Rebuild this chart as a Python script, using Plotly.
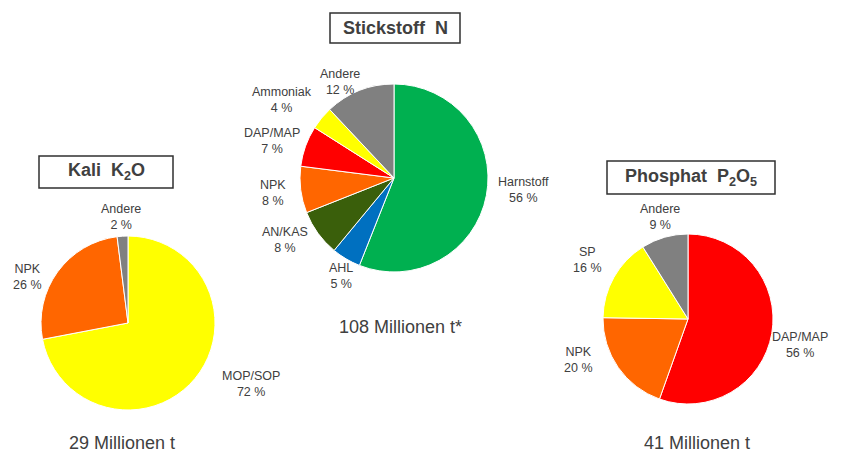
import plotly.graph_objects as go

# The page has an 8px body margin, so the figure is drawn 8px in from the window edge.
OFF = 8
WIN_W, WIN_H = 844, 457
W, H = WIN_W - OFF, WIN_H - OFF

# ---- data ----
n_labels = ["Harnstoff", "AHL", "AN/KAS", "NPK", "DAP/MAP", "Ammoniak", "Andere"]
n_values = [56, 5, 8, 8, 7, 4, 12]
k_labels = ["MOP/SOP", "NPK", "Andere"]
k_values = [72, 26, 2]
p_labels = ["DAP/MAP", "NPK", "SP", "Andere"]
p_values = [56, 20, 16, 9]
totals = ["108 Millionen t*", "29 Millionen t", "41 Millionen t"]
titles = ["<b>Stickstoff  N</b>", "<b>Kali  K<sub>2</sub>O</b>", "<b>Phosphat  P<sub>2</sub>O<sub>5</sub></b>"]

# ---- style ----
colors = {
    "Harnstoff": "#00b050", "AHL": "#0070c0", "AN/KAS": "#3a5f0b", "NPK": "#ff6600",
    "DAP/MAP": "#ff0000", "Ammoniak": "#ffff00", "Andere": "#808080",
    "MOP/SOP": "#ffff00", "SP": "#ffff00",
}
TXT = "#404040"
FONT = "Liberation Sans, Arial, sans-serif"

# pie geometry in window pixels: center x, center y, radius
geo = {"N": (394, 178, 94), "K": (128, 323, 87), "P": (688, 319, 85)}

# label positions (window pixels)
label_pos = {
    "N": {"Harnstoff": (523, 190), "AHL": (341, 276), "AN/KAS": (285, 240), "NPK": (273, 193),
          "DAP/MAP": (272, 141), "Ammoniak": (282, 100), "Andere": (340, 82)},
    "K": {"MOP/SOP": (251, 384), "NPK": (27, 277), "Andere": (121, 217)},
    "P": {"DAP/MAP": (800, 345), "NPK": (578, 360), "SP": (587, 260), "Andere": (660, 217)},
}
total_pos = {"N": (400, 327), "K": (122, 443), "P": (697, 443)}
title_box = {"N": (330, 13, 460, 43), "K": (39, 156, 173, 188), "P": (607, 161, 775, 194)}


def px(x):
    return (x - OFF) / W


def py(y):
    return 1 - (y - OFF) / H


fig = go.Figure()
annotations = []
shapes = []
series = [("N", n_labels, n_values, totals[0], titles[0]),
          ("K", k_labels, k_values, totals[1], titles[1]),
          ("P", p_labels, p_values, totals[2], titles[2])]

for key, labels, values, total, title in series:
    cx, cy, r = geo[key]
    fig.add_trace(go.Pie(
        labels=labels, values=values, sort=False, direction="clockwise", rotation=0,
        marker=dict(colors=[colors[l] for l in labels], line=dict(color="#ffffff", width=1)),
        textinfo="none", hoverinfo="label+value",
        domain=dict(x=[px(cx - r), px(cx + r)], y=[py(cy + r), py(cy - r)]),
        showlegend=False,
    ))
    for l, v in zip(labels, values):
        lx, ly = label_pos[key][l]
        annotations.append(dict(
            x=px(lx), y=py(ly), xref="paper", yref="paper", showarrow=False,
            text=f"{l}<br>{v} %", font=dict(family=FONT, size=12.5, color=TXT),
            align="center", xanchor="center", yanchor="middle"))
    tx, ty = total_pos[key]
    annotations.append(dict(
        x=px(tx), y=py(ty), xref="paper", yref="paper", showarrow=False, text=total,
        font=dict(family=FONT, size=18, color=TXT), xanchor="center", yanchor="middle"))
    x0, y0, x1, y1 = title_box[key]
    shapes.append(dict(type="rect", xref="paper", yref="paper",
                       x0=px(x0), x1=px(x1), y0=py(y1), y1=py(y0),
                       line=dict(color="#303030", width=1.5), fillcolor="rgba(0,0,0,0)"))
    annotations.append(dict(
        x=px((x0 + x1) / 2), y=py((y0 + y1) / 2), xref="paper", yref="paper", showarrow=False,
        text=title, font=dict(family=FONT, size=18, color=TXT), xanchor="center", yanchor="middle"))

fig.update_layout(
    width=W, height=H, margin=dict(l=0, r=0, t=0, b=0),
    paper_bgcolor="#ffffff", plot_bgcolor="#ffffff",
    annotations=annotations, shapes=shapes,
)

fig.write_html("out.html")
